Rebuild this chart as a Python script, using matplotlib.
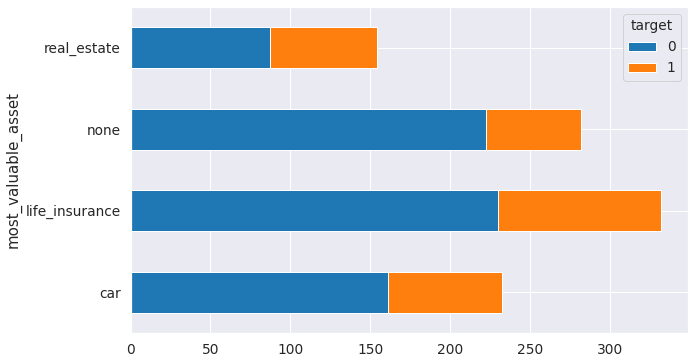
import matplotlib
matplotlib.use("Agg")
import matplotlib.pyplot as plt
import seaborn as sns
import pandas as pd

sns.set_theme(style="darkgrid", font_scale=1.25)

# 数据
categories = ["car", "life_insurance", "none", "real_estate"]
target_0 = [161, 230, 222, 87]
target_1 = [71, 102, 60, 67]

df = pd.DataFrame({0: target_0, 1: target_1}, index=categories)
df.index.name = "most_valuable_asset"
df.columns.name = "target"

fig = plt.figure(figsize=(694 / 72, 361 / 72), dpi=72)
ax = fig.add_subplot(111)
df.plot(kind="barh", stacked=True, ax=ax, color=["#1f77b4", "#ff7f0e"])

ax.legend(title="target", loc="upper right", title_fontsize=13.75)
fig.subplots_adjust(left=130.5 / 694, right=688 / 694, top=1 - 7 / 361, bottom=1 - 333 / 361)
fig.savefig("out.png", dpi=72)
